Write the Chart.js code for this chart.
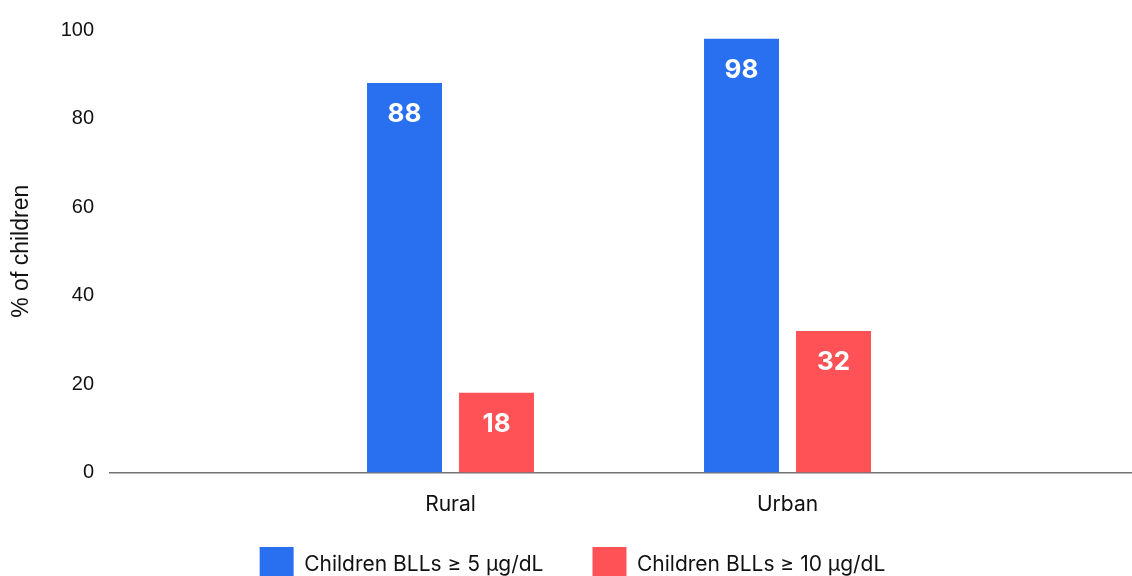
<!DOCTYPE html>
<html>
<head>
<meta charset="utf-8">
<script src="https://cdn.jsdelivr.net/npm/chart.js@4.4.1/dist/chart.umd.min.js"></script>
<style>
  html, body { margin: 0; padding: 0; background: #fff; width: 1132px; height: 576px; overflow: hidden; }
  canvas { display: block; }
</style>
</head>
<body>
<canvas id="chart" width="1132" height="593"></canvas>
<script>
// Share of children with elevated blood lead levels, by area
const categories = ['Rural', 'Urban'];
const seriesNames = ['Children BLLs ≥ 5 µg/dL', 'Children BLLs ≥ 10 µg/dL'];
const bllsAtLeast5 = [88, 98];
const bllsAtLeast10 = [18, 32];
const yTickValues = [0, 20, 40, 60, 80, 100];
const yAxisTitle = '% of children';

const BLUE = '#2970F0';
const RED = '#FF5257';
const INK = '#111111';

// White value labels drawn just inside the top of each bar
const barValueLabels = {
  id: 'barValueLabels',
  afterDatasetsDraw(chart) {
    const ctx = chart.ctx;
    ctx.save();
    ctx.fillStyle = '#ffffff';
    ctx.font = 'bold 26px Inter, "DejaVu Sans", sans-serif';
    ctx.textAlign = 'center';
    ctx.textBaseline = 'middle';
    chart.data.datasets.forEach((ds, di) => {
      const meta = chart.getDatasetMeta(di);
      meta.data.forEach((bar, i) => {
        ctx.fillText(String(ds.data[i]), bar.x, bar.y + 31);
      });
    });
    ctx.restore();
  }
};

new Chart(document.getElementById('chart'), {
  type: 'bar',
  data: {
    labels: categories,
    datasets: [
      { label: seriesNames[0], data: bllsAtLeast5, backgroundColor: BLUE, borderWidth: 0 },
      { label: seriesNames[1], data: bllsAtLeast10, backgroundColor: RED, borderWidth: 0 }
    ]
  },
  options: {
    responsive: false,
    animation: false,
    events: [],
    layout: { padding: { top: 30, right: -13, bottom: 0, left: 0 } },
    datasets: {
      bar: { categoryPercentage: 0.546, barPercentage: 0.815 }
    },
    scales: {
      x: {
        offset: false,
        z: 1,
        grid: { display: false, drawTicks: false },
        border: { display: true, color: 'rgba(0,0,0,0.55)', width: 1.5 },
        ticks: {
          // labels hang below the short axis box, into the space above the legend
          mirror: true,
          padding: -45,
          color: INK,
          font: { family: 'Inter', size: 21, lineHeight: 1.2 },
          maxRotation: 0
        },
        // spread the two groups so they sit at one third and two thirds of the axis
        afterBuildTicks(scale) {
          scale._startValue = -1.0104;
          scale._valueRange = 3.0326;
        },
        afterFit(scale) { scale.height = 25.5; }
      },
      y: {
        min: yTickValues[0],
        max: yTickValues[yTickValues.length - 1],
        grid: { display: false, drawTicks: false },
        border: { display: false },
        ticks: {
          stepSize: yTickValues[1] - yTickValues[0],
          padding: 16,
          color: INK,
          font: { family: '"Liberation Sans", Arial, sans-serif', size: 20 }
        },
        title: {
          display: true,
          text: yAxisTitle,
          color: INK,
          padding: { top: 8, bottom: 4 },
          font: { family: '"Liberation Sans", Arial, sans-serif', size: 23 }
        },
        afterFit(scale) { scale.width = 110; }
      }
    },
    plugins: {
      tooltip: { enabled: false },
      legend: {
        position: 'bottom',
        labels: {
          boxWidth: 34,
          boxHeight: 36,
          padding: 49,
          color: INK,
          font: { family: 'Inter', size: 21 }
        }
      }
    }
  },
  plugins: [barValueLabels]
});
</script>
</body>
</html>
